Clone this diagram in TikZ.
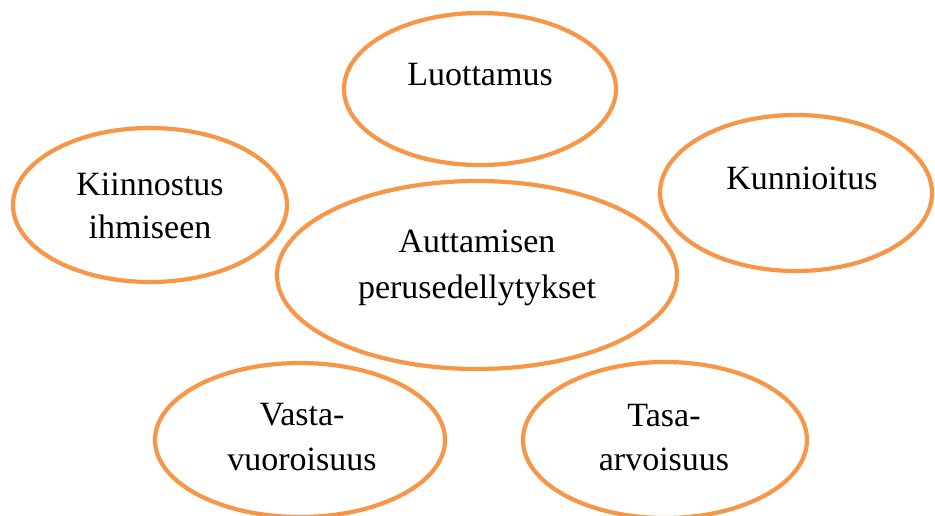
\documentclass[tikz,border=0pt]{standalone}
\usepackage{fontspec}
\setmainfont{Liberation Serif}
\usetikzlibrary{shapes.geometric}
\definecolor{accorange}{HTML}{F79646}
\tikzset{
  bubble/.style={ellipse, draw=accorange, line width=4.2pt, fill=none, inner sep=0pt},
  lbl/.style={anchor=base, font=\fontsize{34}{45}\selectfont, text=black, inner sep=0pt}
}
\begin{document}
\begin{tikzpicture}[x=1pt,y=-1pt]
\useasboundingbox (0,0) rectangle (935,515);
\node[bubble, minimum width=272pt, minimum height=152pt] (luot) at (480,89) {};
\node[bubble, minimum width=274pt, minimum height=154pt] (kiin) at (150,205) {};
\node[bubble, minimum width=272pt, minimum height=156pt] (kunn) at (796,193) {};
\node[bubble, minimum width=400pt, minimum height=188pt] (aut) at (477,275) {};
\node[bubble, minimum width=290pt, minimum height=154pt] (vasta) at (300,440) {};
\node[bubble, minimum width=284pt, minimum height=156pt] (tasa) at (665,440) {};

\node[lbl] (tluot) at (480,85) {Luottamus};
\node[lbl] (tkiin1) at (150,195) {Kiinnostus};
\node[lbl] (tkiin2) at (150,238) {ihmiseen};
\node[lbl] (tkunn) at (802,189) {Kunnioitus};
\node[lbl] (taut1) at (477,252) {Auttamisen};
\node[lbl] (taut2) at (477,298) {perusedellytykset};
\node[lbl] (tvasta1) at (302,425) {Vasta-};
\node[lbl] (tvasta2) at (302,470) {vuoroisuus};
\node[lbl] (ttasa1) at (664,426) {Tasa-};
\node[lbl] (ttasa2) at (664,470) {arvoisuus};
\end{tikzpicture}
\end{document}
